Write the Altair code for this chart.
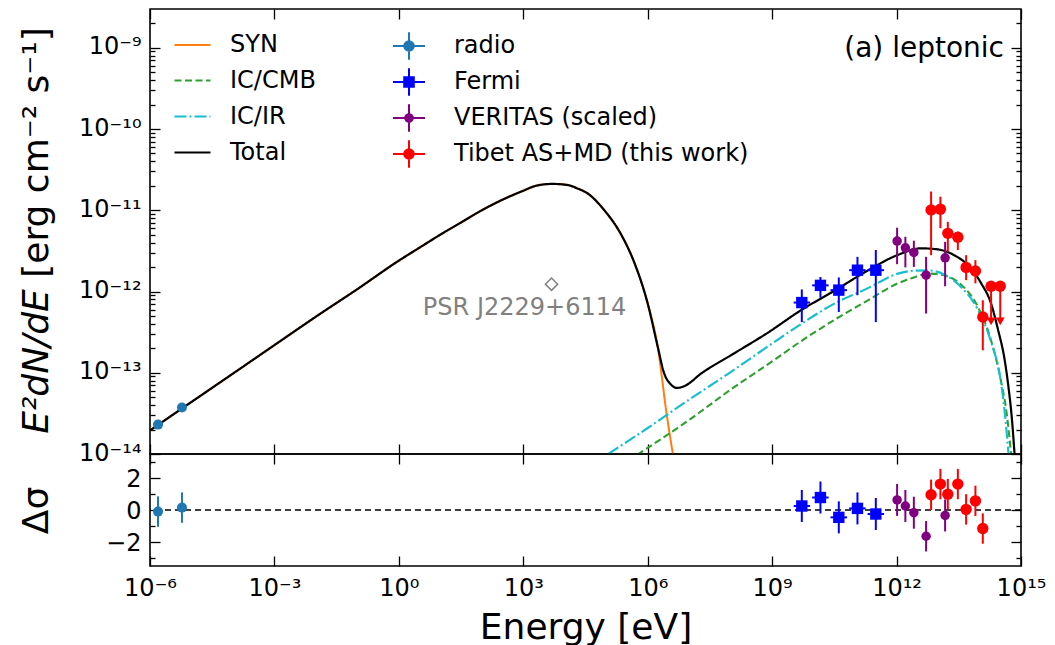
import altair as alt
import pandas as pd

FONT = "DejaVu Sans"
W, H_TOP, H_BOT = 871, 445, 112

# ---------------- axes ----------------
X_DOMAIN = [1e-6, 1e15]
Y_DOMAIN = [1e-14, 3e-9]
R_DOMAIN = [-3.5, 3.5]
X_TICKS = [1e-6, 1e-3, 1.0, 1e3, 1e6, 1e9, 1e12, 1e15]
X_TICK_LABELS = ["10⁻⁶", "10⁻³", "10⁰", "10³", "10⁶", "10⁹", "10¹²", "10¹⁵"]
Y_TICKS = [1e-14, 1e-13, 1e-12, 1e-11, 1e-10, 1e-9]
Y_TICK_LABELS = ["10⁻¹⁴", "10⁻¹³", "10⁻¹²", "10⁻¹¹", "10⁻¹⁰", "10⁻⁹"]
Y_MINOR = [m * d for d in [1e-14, 1e-13, 1e-12, 1e-11, 1e-10] for m in [2, 3, 4, 5, 6, 7, 8, 9]] + [2e-9]
R_TICKS = [-2, 0, 2]
R_TICK_LABELS = ["−2", "0", "2"]
R_MINOR = [-3, -1, 1, 3]

# ---------------- model curves ----------------
COMPONENTS = ["SYN", "IC/CMB", "IC/IR", "Total"]
COMPONENT_COLORS = ["#ff7f0e", "#2ca02c", "#17becf", "#000000"]
COMPONENT_DASHES = [[1, 0], [7, 3.5], [12, 3, 2, 3], [1, 0]]
COMPONENT_WIDTHS = [2.0, 2.2, 2.2, 2.4]

SYN_E = [1e-6, 1e-5, 1e-4, 1e-3, 1e-2, 1e-1, 1.0, 3.16, 10.0, 31.6, 100.0, 316.0,
         1.0e3, 2.0e3, 5.0e3, 1.2e4, 2.0e4, 3.5e4, 9.0e4, 2.3e5, 4.8e5, 1.0e6,
         1.74e6, 2.9e6, 4.2e6]
SYN_F = [1.95e-14, 4.37e-14, 9.77e-14, 2.19e-13, 4.90e-13, 1.07e-12, 2.40e-12,
         3.47e-12, 5.01e-12, 7.08e-12, 1.0e-11, 1.35e-11, 1.74e-11, 2.0e-11,
         2.11e-11, 2.04e-11, 1.86e-11, 1.62e-11, 1.0e-11, 5.0e-12, 2.24e-12,
         7.1e-13, 2.1e-13, 2.95e-14, 8.9e-15]

CMB_E = [5.6e5, 1.0e7, 1.0e8, 1.0e9, 5.0e9, 3.16e10, 2.04e11, 1.07e12, 2.5e12,
         6.3e12, 1.4e13, 3.5e13, 9.1e13, 1.9e14, 3.3e14, 4.5e14, 5.9e14]
CMB_F = [9.8e-15, 2.63e-14, 6.2e-14, 1.38e-13, 2.45e-13, 4.47e-13, 7.8e-13, 1.26e-12,
         1.48e-12, 1.66e-12, 1.58e-12, 1.23e-12, 6.5e-13, 2.5e-13, 7.9e-14,
         3.2e-14, 8.9e-15]

IR_E = [1.12e5, 1.0e6, 1.0e7, 1.0e8, 1.0e9, 5.0e9, 3.16e10, 2.04e11, 1.07e12,
        2.5e12, 5.6e12, 1.4e13, 3.5e13, 9.1e13, 1.9e14, 3.2e14, 4.0e14, 5.1e14]
IR_F = [1.0e-14, 2.09e-14, 4.68e-14, 1.02e-13, 2.29e-13, 3.98e-13, 7.1e-13,
        1.10e-12, 1.66e-12, 1.80e-12, 1.82e-12, 1.62e-12, 1.15e-12, 6.0e-13,
        2.4e-13, 8.3e-14, 3.5e-14, 8.9e-15]

TOT_E = [1e-6, 1e-5, 1e-4, 1e-3, 1e-2, 1e-1, 1.0, 3.16, 10.0, 31.6, 100.0, 316.0,
         1.0e3, 2.0e3, 5.0e3, 1.2e4, 2.0e4, 3.5e4, 9.0e4, 2.3e5, 4.8e5, 1.0e6,
         1.74e6, 2.5e6, 3.6e6, 5.1e6, 7.9e6, 1.95e7, 1.23e8, 7.8e8, 5.0e9, 3.16e10,
         2.04e11, 1.07e12, 3.9e12, 9.8e12, 2.45e13, 5.1e13, 1.1e14, 1.9e14,
         2.75e14, 4.0e14, 5.0e14, 6.0e14, 7.1e14]
TOT_F = [1.95e-14, 4.37e-14, 9.77e-14, 2.19e-13, 4.90e-13, 1.07e-12, 2.40e-12,
         3.47e-12, 5.01e-12, 7.08e-12, 1.0e-11, 1.35e-11, 1.74e-11, 2.0e-11,
         2.11e-11, 2.04e-11, 1.86e-11, 1.62e-11, 1.0e-11, 5.0e-12, 2.24e-12,
         7.1e-13, 2.1e-13, 9.8e-14, 7.2e-14, 6.5e-14, 6.9e-14, 9.8e-14, 1.74e-13,
         3.1e-13, 5.9e-13, 1.02e-12, 1.82e-12, 2.82e-12, 3.4e-12, 3.3e-12, 2.8e-12,
         2.14e-12, 1.26e-12, 7.1e-13, 3.5e-13, 1.48e-13, 6.6e-14, 2.8e-14, 8.9e-15]

# ---------------- data points ----------------
DATASETS = ["radio", "Fermi", "VERITAS (scaled)", "Tibet AS+MD (this work)"]
C_RADIO, C_FERMI, C_VER, C_TIBET = "#1f77b4", "#0000ff", "#800080", "#ff0000"
DATASET_COLORS = [C_RADIO, C_FERMI, C_VER, C_TIBET]

RADIO_E = [1.56e-6, 5.9e-6]
RADIO_F = [2.3e-14, 3.73e-14]
RADIO_RES = [-0.10, 0.15]
RADIO_RES_ERR = [0.95, 0.95]

FERMI_E = [5.19e9, 1.46e10, 4.05e10, 1.14e11, 3.16e11]
FERMI_E_LO = [3.3e9, 9.2e9, 2.55e10, 7.2e10, 2.0e11]
FERMI_E_HI = [8.2e9, 2.3e10, 6.4e10, 1.8e11, 5.0e11]
FERMI_F = [7.31e-13, 1.19e-12, 1.04e-12, 1.83e-12, 1.83e-12]
FERMI_F_LO = [4.2e-13, 8.4e-13, 5.6e-13, 9.0e-13, 4.2e-13]
FERMI_F_HI = [1.06e-12, 1.51e-12, 1.49e-12, 2.67e-12, 3.24e-12]
FERMI_RES = [0.25, 0.78, -0.46, 0.10, -0.25]
FERMI_RES_ERR = [1.0, 1.0, 1.0, 1.0, 1.0]

VER_E = [1.03e12, 1.63e12, 2.61e12, 5.15e12, 1.48e13]
VER_F = [4.18e-12, 3.45e-12, 3.03e-12, 1.59e-12, 2.60e-12]
VER_F_LO = [2.17e-12, 1.98e-12, 2.01e-12, 5.35e-13, 1.16e-12]
VER_F_HI = [6.1e-12, 4.72e-12, 4.22e-12, 2.67e-12, 4.09e-12]
VER_RES = [0.63, 0.25, -0.17, -1.64, -0.34]
VER_RES_ERR = [1.0, 1.0, 1.0, 0.95, 1.0]

TIBET_E = [6.8e12, 1.14e13, 1.72e13, 3.0e13, 4.75e13, 7.96e13, 1.2e14]
TIBET_F = [1.01e-11, 1.03e-11, 5.2e-12, 4.65e-12, 1.98e-12, 1.79e-12, 4.85e-13]
TIBET_F_LO = [2.8e-12, 6.0e-12, 3.08e-12, 3.24e-12, 1.38e-12, 1.26e-12, 1.89e-13]
TIBET_F_HI = [1.70e-11, 1.47e-11, 7.2e-12, 5.45e-12, 2.8e-12, 2.43e-12, 7.8e-13]
TIBET_RES = [0.95, 1.62, 0.99, 1.62, 0.04, 0.57, -1.16]
TIBET_RES_ERR = [0.95, 0.95, 0.95, 0.95, 0.95, 0.95, 0.95]
TIBET_UL_E = [1.9e14, 3.16e14]
TIBET_UL_F = [1.16e-12, 1.16e-12]
TIBET_UL_END = [4.3e-13, 4.3e-13]

PSR_NAME = ["PSR J2229+6114"]
PSR_E = [4.8e3]
PSR_F = [1.23e-12]
PANEL_LABEL = "(a) leptonic"


def circ(r):
    return f"M{r},0A{r},{r},0,1,1,{-r},0A{r},{r},0,1,1,{r},0Z"


def sq(h):
    return f"M{-h},{-h}H{h}V{h}H{-h}Z"


CROSS = "M-1,0L1,0M0,-0.86L0,0.86"
DATASET_SYMBOLS = [
    CROSS + circ(0.3) + circ(0.2) + circ(0.1) + circ(0.02),
    CROSS + sq(0.3) + sq(0.2) + sq(0.1) + sq(0.02),
    CROSS + circ(0.24) + circ(0.14) + circ(0.05),
    CROSS + circ(0.3) + circ(0.2) + circ(0.1) + circ(0.02),
]

# ---------------- data frames ----------------
rows = []
for name, es, fs in [("SYN", SYN_E, SYN_F), ("IC/CMB", CMB_E, CMB_F),
                     ("IC/IR", IR_E, IR_F), ("Total", TOT_E, TOT_F)]:
    for i, (e, f) in enumerate(zip(es, fs)):
        rows.append({"component": name, "E": e, "F": f, "i": i})
curves_df = pd.DataFrame(rows)


def res_frame(base, res, err):
    base["R"] = res
    base["R_lo"] = [r - e for r, e in zip(res, err)]
    base["R_hi"] = [r + e for r, e in zip(res, err)]
    return pd.DataFrame(base)


radio_df = res_frame({"E": RADIO_E, "F": RADIO_F}, RADIO_RES, RADIO_RES_ERR)
fermi_df = res_frame({"E": FERMI_E, "E_lo": FERMI_E_LO, "E_hi": FERMI_E_HI,
                      "F": FERMI_F, "F_lo": FERMI_F_LO, "F_hi": FERMI_F_HI},
                     FERMI_RES, FERMI_RES_ERR)
ver_df = res_frame({"E": VER_E, "F": VER_F, "F_lo": VER_F_LO, "F_hi": VER_F_HI},
                   VER_RES, VER_RES_ERR)
tibet_df = res_frame({"E": TIBET_E, "F": TIBET_F, "F_lo": TIBET_F_LO, "F_hi": TIBET_F_HI},
                     TIBET_RES, TIBET_RES_ERR)
ul_df = pd.DataFrame({"E": TIBET_UL_E, "F": TIBET_UL_F, "F_end": TIBET_UL_END})
psr_df = pd.DataFrame({"name": PSR_NAME, "E": PSR_E, "F": PSR_F})
ds_df = pd.DataFrame({"name": DATASETS, "E": [1.0] * 4, "F": [1e-12] * 4})

# ---------------- scales & axes helpers ----------------
X_SCALE = alt.Scale(type="log", domain=X_DOMAIN, nice=False)
Y_SCALE = alt.Scale(type="log", domain=Y_DOMAIN, nice=False)
R_SCALE = alt.Scale(type="linear", domain=R_DOMAIN, nice=False, zero=False)


def arr_expr(labels):
    return "[" + ",".join("'" + s + "'" for s in labels) + "]"


def tick_axis(orient, values, offset, size):
    return alt.Axis(orient=orient, offset=offset, values=values, labels=False,
                    domain=False, grid=False, ticks=True, tickSize=size,
                    tickWidth=1.3, tickColor="black", title=None)


LABEL_STYLE = dict(ticks=False, domain=False, grid=False, labelFont=FONT,
                   labelFontSize=24, labelColor="black", labelOverlap=False,
                   labelFlush=False)
TITLE_STYLE = dict(titleFont=FONT, titleFontSize=36, titleFontWeight="normal",
                   titleColor="black")

y_label_axis = alt.Axis(orient="left", values=Y_TICKS,
                        labelExpr=arr_expr(Y_TICK_LABELS) + "[round(log(datum.value)/LN10)+14]",
                        labelPadding=9, labelOffset=-1, title="[erg cm⁻² s⁻¹]", titleX=-114,
                        titleY=143, titleAngle=270, titleAlign="center", titleBaseline="middle",
                        **LABEL_STYLE, **TITLE_STYLE)
y_left_major = alt.Axis(orient="right", offset=-W, values=Y_TICKS, labels=False,
                        domain=False, grid=False, ticks=True, tickSize=10,
                        tickWidth=1.3, tickColor="black",
                        title="E²dN/dE", titleX=-114, titleY=352, titleAngle=270,
                        titleAlign="center", titleBaseline="middle",
                        titleFontStyle="italic", **TITLE_STYLE)

r_label_axis = alt.Axis(orient="left", values=R_TICKS,
                        labelExpr=arr_expr(R_TICK_LABELS) + "[(datum.value+2)/2]",
                        labelPadding=9, labelOffset=1, title="Δσ", titleX=-114, titleY=56,
                        titleAngle=270, titleAlign="center", titleBaseline="middle",
                        **LABEL_STYLE, **TITLE_STYLE)
x_label_axis = alt.Axis(orient="bottom", values=X_TICKS,
                        labelExpr=arr_expr(X_TICK_LABELS) + "[round(log(datum.value)/LN10/3)+2]",
                        labelPadding=10, title="Energy [eV]", titleX=W / 2, titleY=72,
                        titleAlign="center", titleBaseline="alphabetic",
                        **LABEL_STYLE, **TITLE_STYLE)


def X(field="E", axis=None):
    return alt.X(field, type="quantitative", scale=X_SCALE, axis=axis)


def Y(field="F", axis=None):
    return alt.Y(field, type="quantitative", scale=Y_SCALE, axis=axis)


def R(field="R", axis=None):
    return alt.Y(field, type="quantitative", scale=R_SCALE, axis=axis)


# ---------------- top panel ----------------
curve_legend = alt.Legend(orient="none", legendX=23, legendY=17, title=None,
                          labelFont=FONT, labelFontSize=24, labelColor="black",
                          labelLimit=500, symbolType="stroke", symbolSize=1296,
                          symbolStrokeWidth=2.5, rowPadding=4, labelOffset=18, padding=0)
curves = alt.Chart(curves_df).mark_line(clip=True, interpolate="monotone").encode(
    x=X(axis=tick_axis("top", X_TICKS, -H_TOP, 10)),
    y=Y(axis=y_label_axis),
    color=alt.Color("component:N", scale=alt.Scale(domain=COMPONENTS, range=COMPONENT_COLORS),
                    legend=curve_legend),
    strokeDash=alt.StrokeDash("component:N", scale=alt.Scale(domain=COMPONENTS, range=COMPONENT_DASHES),
                              legend=curve_legend),
    strokeWidth=alt.StrokeWidth("component:N", scale=alt.Scale(domain=COMPONENTS, range=COMPONENT_WIDTHS),
                                legend=None),
    order="i:Q",
)

psr_pt = alt.Chart(psr_df).mark_point(shape="diamond", filled=False, size=150, color="#808080",
                                      strokeWidth=1.5, opacity=1).encode(
    x=X(axis=tick_axis("bottom", X_TICKS, -H_TOP, 10)), y=Y(axis=y_left_major))
psr_txt = alt.Chart(psr_df).mark_text(dx=-27, dy=24, font=FONT, fontSize=24, color="#808080").encode(
    x=X(), y=Y(axis=tick_axis("right", Y_MINOR, -W, 5)), text="name:N")

radio_pts = alt.Chart(radio_df).mark_point(filled=True, shape="circle", size=100, color=C_RADIO,
                                           opacity=1).encode(
    x=X(), y=Y(axis=tick_axis("left", Y_TICKS, -W, 10)))

fermi_xerr = alt.Chart(fermi_df).mark_rule(strokeWidth=2, color=C_FERMI).encode(
    x=X("E_lo"), x2="E_hi", y=Y(axis=tick_axis("left", Y_MINOR, -W, 5)))
fermi_yerr = alt.Chart(fermi_df).mark_rule(strokeWidth=2, color=C_FERMI).encode(
    x=X(), y=Y("F_lo"), y2="F_hi")
fermi_pts = alt.Chart(fermi_df).mark_point(filled=True, shape="square", size=130, color=C_FERMI,
                                           opacity=1).encode(x=X(), y=Y())

ver_yerr = alt.Chart(ver_df).mark_rule(strokeWidth=2, color=C_VER).encode(
    x=X(), y=Y("F_lo"), y2="F_hi")
ver_pts = alt.Chart(ver_df).mark_point(filled=True, shape="circle", size=90, color=C_VER,
                                       opacity=1).encode(x=X(), y=Y())

tibet_yerr = alt.Chart(tibet_df).mark_rule(strokeWidth=2, color=C_TIBET).encode(
    x=X(), y=Y("F_lo"), y2="F_hi")
tibet_pts = alt.Chart(tibet_df).mark_point(filled=True, shape="circle", size=130, color=C_TIBET,
                                           opacity=1).encode(x=X(), y=Y())
ul_rule = alt.Chart(ul_df).mark_rule(strokeWidth=2, color=C_TIBET).encode(
    x=X(), y=Y("F_end"), y2="F")
ul_head = alt.Chart(ul_df).mark_point(filled=True, shape="triangle-down", size=80, color=C_TIBET,
                                      opacity=1).encode(x=X(), y=Y("F_end"))
ul_pts = alt.Chart(ul_df).mark_point(filled=True, shape="circle", size=130, color=C_TIBET,
                                     opacity=1).encode(x=X(), y=Y())

ds_legend = alt.Legend(orient="none", legendX=242, legendY=20, title=None,
                       labelFont=FONT, labelFontSize=24, labelColor="black",
                       labelLimit=500, symbolSize=1024, symbolStrokeWidth=2, rowPadding=0,
                       labelOffset=28, padding=0)
legend_layer = alt.Chart(ds_df).transform_filter("false").mark_point(
    filled=False, strokeWidth=2, opacity=1).encode(
    x=X(), y=Y(),
    color=alt.Color("name:N", scale=alt.Scale(domain=DATASETS, range=DATASET_COLORS), legend=ds_legend),
    shape=alt.Shape("name:N", scale=alt.Scale(domain=DATASETS, range=DATASET_SYMBOLS), legend=ds_legend),
)

panel_label = alt.Chart(pd.DataFrame({"t": [PANEL_LABEL]})).mark_text(
    align="right", baseline="middle", font=FONT, fontSize=28, color="black").encode(
    x=alt.value(W - 17), y=alt.value(40), text="t:N")

top = alt.layer(
    curves, psr_pt, psr_txt, radio_pts, fermi_xerr, fermi_yerr, fermi_pts,
    ver_yerr, ver_pts, tibet_yerr, ul_rule, ul_head, ul_pts, tibet_pts,
    legend_layer, panel_label,
).resolve_scale(color="independent", shape="independent", strokeDash="independent",
                strokeWidth="independent").resolve_axis(
    x="independent", y="independent").properties(width=W, height=H_TOP)

# ---------------- bottom panel (residuals) ----------------
zero = alt.Chart(pd.DataFrame({"z": [0.0]})).mark_rule(strokeDash=[6, 4], strokeWidth=1.5,
                                                       color="black").encode(y=R("z", axis=r_label_axis))
radio_r_err = alt.Chart(radio_df).mark_rule(strokeWidth=2, color=C_RADIO).encode(
    x=X(axis=x_label_axis), y=R("R_lo", axis=tick_axis("right", R_TICKS, -W, 10)), y2="R_hi")
radio_r_pts = alt.Chart(radio_df).mark_point(filled=True, shape="circle", size=100, color=C_RADIO,
                                             opacity=1).encode(
    x=X(axis=tick_axis("top", X_TICKS, -H_BOT, 10)), y=R(axis=tick_axis("right", R_MINOR, -W, 5)))
fermi_r_err = alt.Chart(fermi_df).mark_rule(strokeWidth=2, color=C_FERMI).encode(
    x=X(axis=tick_axis("bottom", X_TICKS, -H_BOT, 10)),
    y=R("R_lo", axis=tick_axis("left", R_TICKS, -W, 10)), y2="R_hi")
fermi_r_xerr = alt.Chart(fermi_df).mark_rule(strokeWidth=2, color=C_FERMI).encode(
    x=X("E_lo"), x2="E_hi", y=R(axis=tick_axis("left", R_MINOR, -W, 5)))
fermi_r_pts = alt.Chart(fermi_df).mark_point(filled=True, shape="square", size=130, color=C_FERMI,
                                             opacity=1).encode(x=X(), y=R())
ver_r_err = alt.Chart(ver_df).mark_rule(strokeWidth=2, color=C_VER).encode(
    x=X(), y=R("R_lo"), y2="R_hi")
ver_r_pts = alt.Chart(ver_df).mark_point(filled=True, shape="circle", size=90, color=C_VER,
                                         opacity=1).encode(x=X(), y=R())
tibet_r_err = alt.Chart(tibet_df).mark_rule(strokeWidth=2, color=C_TIBET).encode(
    x=X(), y=R("R_lo"), y2="R_hi")
tibet_r_pts = alt.Chart(tibet_df).mark_point(filled=True, shape="circle", size=130, color=C_TIBET,
                                             opacity=1).encode(x=X(), y=R())

bottom = alt.layer(
    zero, radio_r_err, radio_r_pts, fermi_r_err, fermi_r_xerr, fermi_r_pts,
    ver_r_err, ver_r_pts, tibet_r_err, tibet_r_pts,
).resolve_axis(x="independent", y="independent").properties(width=W, height=H_BOT)

chart = alt.vconcat(top, bottom, spacing=0, bounds="flush").resolve_scale(
    x="independent", y="independent", color="independent", shape="independent",
    strokeDash="independent").resolve_legend(
    color="independent", shape="independent", strokeDash="independent").properties(
    padding={"left": 17, "top": 7, "right": 5, "bottom": 0}, background="white"
).configure(font=FONT).configure_view(stroke="black", strokeWidth=1.6)

chart.save("out.html", embed_options={"renderer": "svg", "actions": False})
